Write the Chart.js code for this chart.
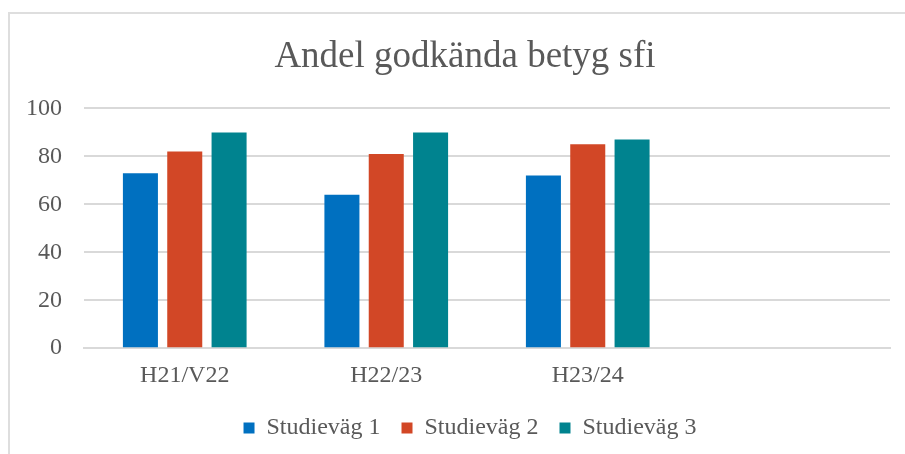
<!DOCTYPE html>
<html>
<head>
<meta charset="utf-8">
<script src="https://cdn.jsdelivr.net/npm/chart.js@4/dist/chart.umd.min.js"></script>
<style>
  html, body { margin: 0; padding: 0; background: #fff; overflow: hidden; }
  #wrap { position: absolute; left: 0; top: 0; width: 905px; height: 454px; }
  #frame { position: absolute; left: 8px; top: 12px; width: 920px; height: 460px; border: 2px solid #dedede; box-sizing: border-box; }
  canvas { position: absolute; left: 0; top: 0; }
</style>
</head>
<body>
<div id="wrap">
  <div id="frame"></div>
  <canvas id="chart" width="905" height="454"></canvas>
</div>
<script>
// data
var categories = ["H21/V22", "H22/23", "H23/24", ""];
var studieVag1 = [73, 64, 72, null];
var studieVag2 = [82, 81, 85, null];
var studieVag3 = [90, 90, 87, null];
var yTicks = [0, 20, 40, 60, 80, 100];

var textColor = "#595959";
var serif = "'Liberation Serif', 'Times New Roman', serif";

// the original chart box is wider than the crop, so title and legend sit right of centre
var shiftPlugin = {
  id: "shiftTitleLegend",
  afterLayout: function (chart) {
    chart.titleBlock.left += 18;
    chart.titleBlock.right += 18;
    chart.legend.left += 23;
    chart.legend.right += 23;
  },
};

var ctx = document.getElementById("chart").getContext("2d");
new Chart(ctx, {
  type: "bar",
  data: {
    labels: categories,
    datasets: [
      { label: "Studieväg 1", data: studieVag1, backgroundColor: "#0070c0" },
      { label: "Studieväg 2", data: studieVag2, backgroundColor: "#d24726" },
      { label: "Studieväg 3", data: studieVag3, backgroundColor: "#00838f" },
    ],
  },
  plugins: [shiftPlugin],
  options: {
    responsive: false,
    animation: false,
    datasets: {
      bar: { categoryPercentage: 0.66, barPercentage: 0.79 },
    },
    layout: { padding: { left: 4, right: 15, top: 25, bottom: 4 } },
    plugins: {
      title: {
        display: true,
        text: "Andel godkända betyg sfi",
        color: textColor,
        font: { family: serif, size: 37, weight: "normal" },
        padding: { top: 10, bottom: 29 },
      },
      legend: {
        position: "bottom",
        labels: {
          color: textColor,
          font: { family: serif, size: 24 },
          boxWidth: 11,
          boxHeight: 11,
          padding: 21,
        },
      },
      tooltip: { enabled: false },
    },
    scales: {
      x: {
        grid: { display: false },
        border: { color: "#d9d9d9", width: 2 },
        ticks: { color: textColor, font: { family: serif, size: 24 }, padding: 5 },
      },
      y: {
        min: 0,
        max: 100,
        afterBuildTicks: function (axis) {
          axis.ticks = yTicks.map(function (v) { return { value: v }; });
        },
        grid: { color: "#d9d9d9", lineWidth: 2, drawTicks: false },
        border: { display: false },
        ticks: { color: textColor, font: { family: serif, size: 24 }, padding: 22 },
      },
    },
  },
});
</script>
</body>
</html>
